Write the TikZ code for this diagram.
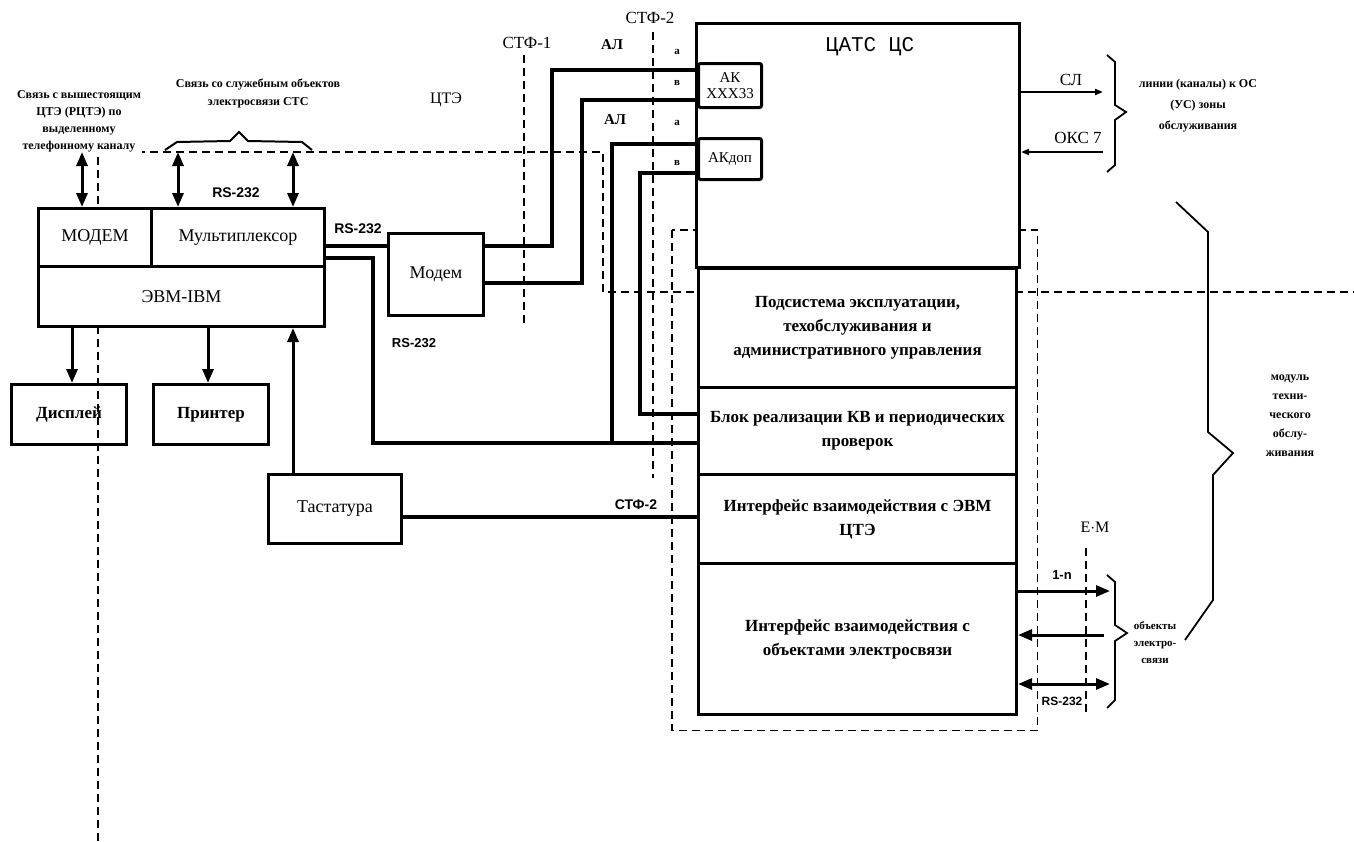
\documentclass[tikz,border=0pt]{standalone}
\usepackage{fontspec}
\setmainfont{Liberation Serif}
\setsansfont{Liberation Sans}
\setmonofont{Liberation Mono}
\usetikzlibrary{arrows.meta}
\begin{document}
\begin{tikzpicture}[x=1pt,y=-1pt,
  box/.style={draw, fill=white, line width=3pt, inner sep=0pt, anchor=north west, align=center},
  wirestyle/.style={line width=3.2pt},
  dsh/.style={line width=1.4pt, dash pattern=on 8pt off 5pt},
  arr/.style={line width=3pt, -{Triangle[length=14pt,width=11pt]}},
  darr/.style={line width=3pt, {Triangle[length=14pt,width=11pt]}-{Triangle[length=14pt,width=11pt]}},
  sarr/.style={line width=2.2pt, -{Triangle[length=8pt,width=6pt]}},
  lbl/.style={inner sep=0pt, align=center},
  bt/.style={font=\bfseries\fontsize{17}{24}\selectfont},
  rt/.style={font=\fontsize{18}{22}\selectfont},
  st/.style={font=\bfseries\fontsize{12}{17}\selectfont},
  sans/.style={font=\sffamily\bfseries\fontsize{14}{16}\selectfont}
]
\useasboundingbox (0,0) rectangle (1354,841);
\fill[white] (0,0) rectangle (1354,841);

% ---------------- dashed lines ----------------
\draw[dsh] (98,841) -- (98,152) -- (603,152) -- (603,292) -- (697,292);
\draw[dsh] (1015,292) -- (1354,292);
\draw[dsh] (524,55) -- (524,327);
\draw[dsh] (653,32) -- (653,478);
\draw[dsh] (1086,548) -- (1086,715);
\node[inner sep=0pt, minimum width=365pt, minimum height=500pt, anchor=north west] (mto) at (672,230) {};
\draw[dsh] (mto.north west) rectangle (mto.south east);

% ---------------- left part ----------------
\node[lbl, st, fill=white, inner sep=1pt] (tsv) at (79,121) {Связь с вышестоящим\\ЦТЭ (РЦТЭ) по\\выделенному\\телефонному каналу};
\node[lbl, st, font=\bfseries\fontsize{12}{18}\selectfont] (tsl) at (258,93) {Связь со служебным объектов\\электросвязи СТС};
\draw[line width=2pt] (165,150) -- (177,142) -- (230,141) -- (239,132) -- (248,141) -- (302,142) -- (312,150);

\node[box, rt, minimum width=113pt, minimum height=58pt] (mdm) at (37,207) {МОДЕМ};
\node[box, rt, minimum width=173pt, minimum height=58pt] (mux) at (150,207) {Мультиплексор};
\node[box, rt, minimum width=286pt, minimum height=60pt] (evm) at (37,265) {ЭВМ-IBM};
\node[box, bt, fill=none, minimum width=115pt, minimum height=60pt] (disp) at (10,383) {Дисплей};
\node[box, bt, minimum width=115pt, minimum height=60pt] (prn) at (152,383) {Принтер};
\node[box, rt, minimum width=133pt, minimum height=69pt] (kbd) at (267,473) {Тастатура};
\node[box, rt, minimum width=95pt, minimum height=82pt] (mdm2) at (387,232) {Модем};

\coordinate (c1) at (82,152);
\coordinate (c2) at (178,152);
\coordinate (c3) at (293,152);
\draw[darr] (c1) -- (c1 |- mdm.north);
\draw[darr] (c2) -- (c2 |- mux.north);
\draw[darr] (c3) -- (c3 |- mux.north);
\node[lbl, sans] (rs1) at (236,193) {RS-232};

\draw[arr] (evm.south -| 72,0) -- (disp.north -| 72,0);
\draw[arr] (evm.south -| 208,0) -- (prn.north -| 208,0);
\draw[arr] (kbd.north -| 293,0) -- (evm.south -| 293,0);

\node[lbl, sans] (rs2) at (358,229) {RS-232};
\node[lbl, sans, font=\sffamily\bfseries\fontsize{13}{15}\selectfont] (rs3) at (414,343) {RS-232};
\node[lbl, font=\fontsize{16}{18}\selectfont] (cte) at (446,100) {ЦТЭ};
\node[lbl, font=\fontsize{17}{20}\selectfont] (stf1) at (527,43) {СТФ-1};
\node[lbl, font=\fontsize{17}{20}\selectfont] (stf2) at (650,18) {СТФ-2};
\node[lbl, font=\bfseries\fontsize{15}{18}\selectfont] (al1) at (612,45) {АЛ};
\node[lbl, font=\bfseries\fontsize{15}{18}\selectfont] (al2) at (615,120) {АЛ};
\node[lbl, font=\bfseries\fontsize{11}{12}\selectfont] (la1) at (677,52) {а};
\node[lbl, font=\bfseries\fontsize{11}{12}\selectfont] (lb1) at (677,83) {в};
\node[lbl, font=\bfseries\fontsize{11}{12}\selectfont] (la2) at (677,123) {а};
\node[lbl, font=\bfseries\fontsize{11}{12}\selectfont] (lb2) at (677,163) {в};

% ---------------- right part ----------------
\node[box, minimum width=323pt, minimum height=244pt] (cts) at (695,22) {};
\node[lbl, font=\ttfamily\fontsize{21}{24}\selectfont] (ctst) at (870,47) {ЦАТС ЦС};
\node[box, rounded corners=2pt, minimum width=63pt, minimum height=44pt, font=\fontsize{15}{16}\selectfont] (ak) at (697,62) {АК\\XXX33};
\node[box, rounded corners=2pt, minimum width=63pt, minimum height=41pt, font=\fontsize{15}{16}\selectfont] (akd) at (697,137) {АКдоп};

\node[box, bt, minimum width=318pt, minimum height=119pt] (pods) at (697,267) {Подсистема эксплуатации,\\техобслуживания и\\административного управления};
\node[box, bt, minimum width=318pt, minimum height=87pt] (blok) at (697,386) {Блок реализации КВ и периодических\\проверок};
\node[box, bt, minimum width=318pt, minimum height=89pt] (ievm) at (697,473) {Интерфейс взаимодействия с ЭВМ\\ЦТЭ};
\node[box, bt, minimum width=318pt, minimum height=151pt] (iobj) at (697,562) {Интерфейс взаимодействия с\\объектами электросвязи};

% wires
\draw[wirestyle] (mux.east |- 0,246) -- (mdm2.west |- 0,246);
\draw[wirestyle] (mux.east |- 0,258) -- (373,258) -- (373,443) -- (blok.west |- 0,443);
\draw[wirestyle] (mdm2.east |- 0,246) -- (552,246) -- (552,70) -- (ak.west |- 0,70);
\draw[wirestyle] (mdm2.east |- 0,283) -- (582,283) -- (582,100) -- (ak.west |- 0,100);
\draw[wirestyle] (akd.west |- 0,144) -- (612,144) -- (612,443);
\draw[wirestyle] (akd.west |- 0,173) -- (640,173) -- (640,414) -- (blok.west |- 0,414);
\draw[wirestyle] (kbd.east |- 0,517) -- (ievm.west |- 0,517);
\node[lbl, sans] (stf2b) at (636,505) {СТФ-2};

% right outputs
\node[lbl, font=\fontsize{17}{20}\selectfont] (sl) at (1071,80) {СЛ};
\node[lbl, font=\fontsize{17}{20}\selectfont] (oks) at (1078,138) {ОКС 7};
\draw[sarr] (cts.east |- 0,92) -- (1103,92);
\draw[sarr] (1103,152) -- (cts.east |- 0,152);
\draw[line width=1.8pt] (1107,55) -- (1115,62) -- (1115,105) -- (1126,112) -- (1115,120) -- (1115,165) -- (1107,172);
\node[lbl, font=\bfseries\fontsize{12}{21}\selectfont] (lin) at (1198,106) {линии (каналы) к ОС\\(УС) зоны\\обслуживания};

\draw[line width=1.8pt] (1176,202) -- (1208,232) -- (1208,432) -- (1233,453) -- (1213,475) -- (1213,600) -- (1185,640);
\node[lbl, font=\bfseries\fontsize{12}{19}\selectfont] (mod) at (1290,416) {модуль\\техни-\\ческого\\обслу-\\живания};

\node[lbl, font=\fontsize{16}{18}\selectfont] (em) at (1095,527) {E$\cdot$M};
\node[lbl, font=\sffamily\bfseries\fontsize{13}{15}\selectfont] (onen) at (1062,575) {1-n};
\draw[arr] (iobj.east |- 0,591) -- (1110,591);
\draw[arr] (1104,635) -- (iobj.east |- 0,635);
\draw[darr] (iobj.east |- 0,684) -- (1110,684);
\node[lbl, font=\sffamily\bfseries\fontsize{12}{14}\selectfont] (rs4) at (1062,701) {RS-232};
\draw[line width=1.8pt] (1107,575) -- (1115,582) -- (1115,625) -- (1127,633) -- (1115,641) -- (1115,700) -- (1107,708);
\node[lbl, font=\bfseries\fontsize{11}{17}\selectfont] (obj) at (1155,643) {объекты\\электро-\\связи};
\end{tikzpicture}
\end{document}
